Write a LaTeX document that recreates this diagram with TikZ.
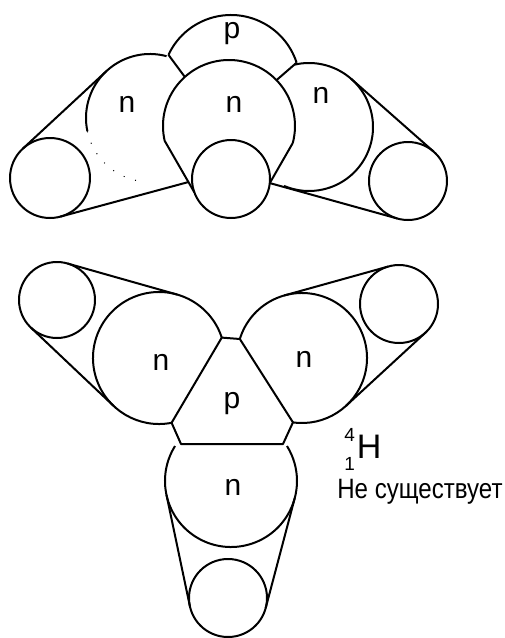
\documentclass[tikz,border=0pt]{standalone}
\usepackage{fontspec}
\usepackage{graphicx}
\setmainfont{Liberation Sans}
\usetikzlibrary{calc}

\begin{document}
\begin{tikzpicture}[x=1pt,y=1pt,line width=2pt,line join=round,
  ball/.style={circle,draw,minimum size=2*#1,inner sep=0pt,outer sep=0pt},
  shell/.style={circle,minimum size=2*#1,inner sep=0pt,outer sep=0pt},
  faint/.style={line width=1pt,dash pattern=on 1pt off 11pt},
  lbl/.style={anchor=base,font=\fontsize{30}{30}\selectfont}]
\useasboundingbox (0,0) rectangle (504,-638);

% upper nucleus: p sitting on three n
\node[shell=69] (ptop) at (231,-84) {};
\node[shell=66] (nmid) at (229,-126) {};
\node[shell=64] (nleft) at (150,-118) {};
\node[shell=64] (nright) at (309,-127) {};
\node[ball=40] (tleft) at (50,-178) {};
\node[ball=39] (tmid) at (231,-179) {};
\node[ball=39] (tright) at (408,-181) {};

\draw (ptop.155) arc[start angle=155,end angle=18,radius=69];
\draw (ptop.155) -- (nmid.132);
\draw (ptop.18) -- (nmid.44);
\draw (nmid.193) arc[start angle=193,end angle=-15,radius=66];
\draw (nmid.193) -- (tmid.200);
\draw (nmid.-15) -- (tmid.-6);
\draw (nleft.75) arc[start angle=75,end angle=192,radius=64];
\draw[faint] (nleft.192) arc[start angle=192,end angle=262,radius=64];
\draw (tleft.133) -- (nleft.133);
\draw (tleft.-75) -- ($(nmid.193)!.8!(tmid.200)$);
\draw (nright.103) arc[start angle=103,end angle=-113,radius=64];
\draw (nright.49) -- (tright.49);
\draw (tmid.-6) -- (tright.254);

\node[lbl] (p1) at (232,-38) {p};
\node[lbl] (n1) at (127,-112) {n};
\node[lbl] (n2) at (234,-112) {n};
\node[lbl] (n3) at (321,-103) {n};

% lower nucleus: p held between three n
\node[shell=66] (nleft2) at (159,-358) {};
\node[shell=65] (nright2) at (302,-358) {};
\node[shell=66] (nlow) at (231,-481) {};
\node[ball=38] (tleft2) at (57,-300) {};
\node[ball=39] (tright2) at (399,-304) {};
\node[ball=39] (tlow) at (228,-598) {};
\coordinate (hexl) at (181,-444);
\coordinate (hexr) at (283,-444);

\draw (nleft2.18) -- (nright2.163) -- (nright2.-98) -- (hexr) -- (hexl)
  -- (nleft2.-79) -- cycle;
\draw (nleft2.18) arc[start angle=18,end angle=281,radius=66];
\draw (nright2.163) arc[start angle=163,end angle=-98,radius=65];
\draw (nlow.148) arc[start angle=148,end angle=392,radius=66];
\draw (tleft2.74) -- (nleft2.74);
\draw (tleft2.227) -- (nleft2.227);
\draw (nright2.106) -- (tright2.106);
\draw (nright2.-47) -- (tright2.-47);
\draw (nlow.-15) -- (tlow.-15);
\draw (nlow.192) -- (tlow.192);

\node[lbl] (n4) at (161,-370) {n};
\node[lbl] (n5) at (304,-367) {n};
\node[lbl] (p2) at (232,-408) {p};
\node[lbl] (n6) at (233,-495) {n};

% mass and charge numbers stacked in front of H
\node[anchor=base west,font=\fontsize{34}{34}\selectfont] (iso) at (340,-458)
  {{\fontsize{19}{19}\selectfont\rlap{\raisebox{17pt}{4}}\raisebox{-12pt}{1}}\kern2pt H};
\node[anchor=base west,font=\fontsize{28}{28}\selectfont] (note) at (333,-498)
  {\scalebox{.86}[1]{Не существует}};
\end{tikzpicture}
\end{document}
